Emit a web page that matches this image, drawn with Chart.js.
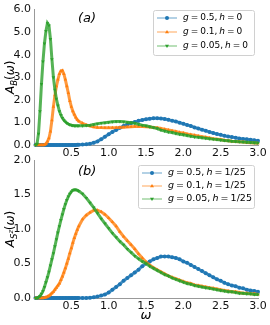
<!DOCTYPE html>
<html>
<head>
<meta charset="utf-8">
<script src="https://cdn.jsdelivr.net/npm/chart.js@4"></script>
<style>
  body { margin: 0; background: #fff; width: 270px; height: 325px; position: relative; overflow: hidden; }
  canvas { position: absolute; left: 0; }
  #panelA { top: 0; }
  #panelB { top: 150px; }
</style>
</head>
<body>
<canvas id="panelA" width="270" height="158"></canvas>
<canvas id="panelB" width="270" height="175"></canvas>
<script>
// frequency grid (fine near the low-ω peaks, coarser afterwards)
const omega = [
  0.02, 0.04, 0.06, 0.08, 0.10, 0.12, 0.14, 0.16, 0.18, 0.20,
  0.22, 0.24, 0.26, 0.28, 0.30, 0.32, 0.34, 0.36, 0.38, 0.40,
  0.42, 0.44, 0.46, 0.48, 0.50, 0.52, 0.54, 0.56, 0.58, 0.60,
  0.65, 0.70, 0.75, 0.80, 0.85, 0.90, 0.95, 1.00,
  1.05, 1.10, 1.15, 1.20, 1.25, 1.30, 1.35, 1.40, 1.45, 1.50,
  1.55, 1.60, 1.65, 1.70, 1.75, 1.80, 1.85, 1.90, 1.95, 2.00,
  2.05, 2.10, 2.15, 2.20, 2.25, 2.30, 2.35, 2.40, 2.45, 2.50,
  2.55, 2.60, 2.65, 2.70, 2.75, 2.80, 2.85, 2.90, 2.95, 3.00
];

// (a) A_B(w), h = 0
const aG05 = [
  0, 0, 0, 0, 0, 0, 0, 0, 0, 0,
  0, 0, 0, 0, 0, 0, 0, 0, 0, 0,
  0, 0, 0, 0, 0, 0, 0.005, 0.005, 0.01, 0.01,
  0.02, 0.03, 0.06, 0.10, 0.16, 0.26, 0.37, 0.48,
  0.58, 0.67, 0.76, 0.84, 0.91, 0.97, 1.02, 1.07, 1.11, 1.14,
  1.16, 1.18, 1.18, 1.17, 1.15, 1.12, 1.08, 1.04, 0.99, 0.94,
  0.89, 0.84, 0.78, 0.73, 0.68, 0.63, 0.58, 0.53, 0.49, 0.45,
  0.41, 0.38, 0.35, 0.32, 0.29, 0.27, 0.25, 0.23, 0.21, 0.19
];
const aG01 = [
  0, 0, 0, 0, 0, 0, 0.01, 0.05, 0.15, 0.30,
  0.60, 1.10, 1.70, 2.20, 2.60, 2.90, 3.15, 3.28, 3.30, 3.15,
  2.90, 2.60, 2.30, 1.95, 1.70, 1.50, 1.35, 1.22, 1.12, 1.05,
  0.96, 0.89, 0.84, 0.80, 0.78, 0.77, 0.76, 0.76,
  0.76, 0.77, 0.78, 0.79, 0.80, 0.81, 0.82, 0.82, 0.82, 0.81,
  0.80, 0.78, 0.76, 0.73, 0.70, 0.67, 0.63, 0.60, 0.56, 0.53,
  0.49, 0.46, 0.43, 0.40, 0.37, 0.34, 0.31, 0.28, 0.26, 0.24,
  0.21, 0.19, 0.17, 0.16, 0.14, 0.13, 0.11, 0.10, 0.09, 0.08
];
const aG005 = [
  0, 0.05, 0.50, 1.50, 2.70, 3.70, 4.50, 5.05, 5.40, 5.30,
  4.70, 3.80, 3.00, 2.45, 2.05, 1.75, 1.50, 1.33, 1.20, 1.10,
  1.03, 0.97, 0.93, 0.90, 0.88, 0.86, 0.85, 0.85, 0.85, 0.85,
  0.85, 0.86, 0.88, 0.91, 0.94, 0.97, 0.99, 1.01,
  1.03, 1.04, 1.04, 1.03, 1.01, 0.99, 0.96, 0.92, 0.88, 0.85,
  0.81, 0.77, 0.73, 0.66, 0.62, 0.58, 0.55, 0.51, 0.48, 0.45,
  0.42, 0.39, 0.36, 0.34, 0.32, 0.30, 0.28, 0.26, 0.24, 0.22,
  0.20, 0.19, 0.17, 0.16, 0.14, 0.13, 0.12, 0.11, 0.10, 0.09
];

// (b) A_Sz(w), h = 1/25
const bG05 = [
  0, 0, 0, 0, 0, 0, 0, 0, 0, 0,
  0, 0, 0, 0, 0, 0, 0, 0, 0, 0,
  0, 0, 0, 0, 0, 0, 0, 0, 0, 0,
  0, 0, 0.005, 0.01, 0.02, 0.035, 0.05, 0.08,
  0.12, 0.16, 0.20, 0.25, 0.29, 0.33, 0.37, 0.41, 0.46, 0.50,
  0.53, 0.56, 0.58, 0.60, 0.60, 0.60, 0.59, 0.58, 0.56, 0.53,
  0.51, 0.48, 0.45, 0.42, 0.39, 0.36, 0.33, 0.30, 0.27, 0.25,
  0.22, 0.20, 0.18, 0.17, 0.15, 0.14, 0.12, 0.11, 0.10, 0.09
];
const bG01 = [
  0, 0, 0, 0, 0, 0, 0.005, 0.01, 0.02, 0.03,
  0.05, 0.07, 0.09, 0.12, 0.15, 0.18, 0.21, 0.26, 0.31, 0.37,
  0.43, 0.50, 0.57, 0.65, 0.72, 0.80, 0.87, 0.93, 0.99, 1.04,
  1.14, 1.20, 1.24, 1.27, 1.27, 1.25, 1.21, 1.16,
  1.10, 1.04, 0.96, 0.89, 0.83, 0.77, 0.71, 0.64, 0.58, 0.52,
  0.48, 0.44, 0.41, 0.38, 0.35, 0.32, 0.30, 0.28, 0.26, 0.24,
  0.22, 0.21, 0.19, 0.18, 0.17, 0.16, 0.15, 0.14, 0.13, 0.12,
  0.11, 0.10, 0.09, 0.09, 0.08, 0.07, 0.07, 0.06, 0.06, 0.05
];
const bG005 = [
  0, 0, 0.01, 0.03, 0.06, 0.10, 0.16, 0.23, 0.30, 0.38,
  0.47, 0.56, 0.65, 0.75, 0.85, 0.95, 1.04, 1.13, 1.21, 1.29,
  1.36, 1.42, 1.47, 1.51, 1.54, 1.56, 1.57, 1.57, 1.56, 1.55,
  1.51, 1.45, 1.38, 1.31, 1.23, 1.15, 1.08, 1.01,
  0.94, 0.88, 0.82, 0.77, 0.71, 0.66, 0.61, 0.57, 0.53, 0.50,
  0.46, 0.43, 0.40, 0.37, 0.34, 0.32, 0.29, 0.27, 0.25, 0.23,
  0.21, 0.20, 0.18, 0.17, 0.16, 0.15, 0.14, 0.13, 0.12, 0.11,
  0.10, 0.09, 0.09, 0.08, 0.07, 0.07, 0.06, 0.06, 0.05, 0.05
];

const xTicks = [0.5, 1.0, 1.5, 2.0, 2.5, 3.0];
const yTicksA = [0, 1, 2, 3, 4, 5, 6];
const yTicksB = [0, 0.5, 1.0, 1.5, 2.0];
const labelsA = ["g = 0.5, h = 0", "g = 0.1, h = 0", "g = 0.05, h = 0"];
const labelsB = ["g = 0.5, h = 1/25", "g = 0.1, h = 1/25", "g = 0.05, h = 1/25"];

const FONT = '"DejaVu Sans", sans-serif';
const colors = ["#1f77b4", "#ff7f0e", "#2ca02c"];
const styles = [
  { pointStyle: "circle", rot: 0 },
  { pointStyle: "triangle", rot: 0 },
  { pointStyle: "triangle", rot: 180 },
];

function fade(hex, a) {
  const n = parseInt(hex.slice(1), 16);
  return `rgba(${n >> 16},${(n >> 8) & 255},${n & 255},${a})`;
}

// mathtext-like: letters italic, digits upright, narrow spaces
function mathText(ctx, str, x, y, size) {
  let cx = x;
  for (const ch of str) {
    if (ch === " ") { cx += size * 0.22; continue; }
    ctx.font = (/[a-zA-Zω]/.test(ch) ? "italic " : "") + size + "px " + FONT;
    ctx.fillText(ch, cx, y);
    cx += ctx.measureText(ch).width;
  }
  return cx;
}

function marker(ctx, i, x, y, r) {
  ctx.fillStyle = colors[i];
  ctx.beginPath();
  if (i === 0) {
    ctx.arc(x, y, r, 0, Math.PI * 2);
  } else {
    const s = i === 1 ? -1 : 1;
    ctx.moveTo(x, y + s * r);
    ctx.lineTo(x - r, y - s * r * 0.6);
    ctx.lineTo(x + r, y - s * r * 0.6);
    ctx.closePath();
  }
  ctx.fill();
}

function decorations(opts) {
  return {
    id: "decor",
    afterDraw(chart) {
      const ctx = chart.ctx;
      ctx.save();
      ctx.fillStyle = "#000";
      ctx.textBaseline = "alphabetic";
      // panel tag
      ctx.textAlign = "left";
      ctx.font = "italic 13px " + FONT;
      ctx.fillText(opts.tag, opts.tagX, opts.tagY);
      // y-axis title, rotated, with subscript
      ctx.translate(opts.ytX, (chart.chartArea.top + chart.chartArea.bottom) / 2);
      ctx.rotate(-Math.PI / 2);
      let w = 0;
      for (const s of opts.ytitle) {
        ctx.font = (s.it ? "italic " : "") + s.size + "px " + FONT;
        w += ctx.measureText(s.t).width;
      }
      let cx = -w / 2;
      for (const s of opts.ytitle) {
        ctx.font = (s.it ? "italic " : "") + s.size + "px " + FONT;
        ctx.fillText(s.t, cx, (s.dy || 0) + 4);
        cx += ctx.measureText(s.t).width;
      }
      ctx.restore();

      // x-axis title
      if (opts.xtitle) {
        ctx.save();
        ctx.fillStyle = "#000";
        ctx.font = "italic 13px " + FONT;
        ctx.textAlign = "center";
        ctx.fillText("ω", (chart.chartArea.left + chart.chartArea.right) / 2, opts.xtitleY);
        ctx.restore();
      }

      // legend box
      const L = opts.legend;
      ctx.save();
      ctx.fillStyle = "rgba(255,255,255,0.8)";
      ctx.strokeStyle = "#d0d0d0";
      ctx.lineWidth = 1;
      ctx.beginPath();
      ctx.roundRect(L.x + 0.5, L.y + 0.5, L.w, L.h, 2);
      ctx.fill();
      ctx.stroke();
      L.labels.forEach((lab, i) => {
        const yy = L.y + L.row0 + i * L.dy;
        ctx.strokeStyle = fade(colors[i], 0.45);
        ctx.lineWidth = 1.5;
        ctx.beginPath();
        ctx.moveTo(L.x + L.lx0, yy);
        ctx.lineTo(L.x + L.lx1, yy);
        ctx.stroke();
        marker(ctx, i, L.x + (L.lx0 + L.lx1) / 2, yy, 2);
        ctx.fillStyle = "#000";
        ctx.textAlign = "left";
        ctx.textBaseline = "middle";
        mathText(ctx, lab, L.x + L.tx, yy, L.size);
      });
      ctx.restore();
    },
  };
}

function makeChart(id, series, labels, yMax, yTicks, xHeight, padTop, deco) {
  const datasets = series.map((vals, i) => ({
    label: labels[i],
    data: omega.map((w, k) => ({ x: w, y: vals[k] })),
    borderColor: fade(colors[i], 0.8),
    borderWidth: 3,
    pointStyle: styles[i].pointStyle,
    rotation: styles[i].rot,
    pointRadius: 2,
    pointBackgroundColor: colors[i],
    pointBorderColor: colors[i],
    pointBorderWidth: 0,
    tension: 0,
    clip: false,
    order: 2 - i,
  }));
  const tickFont = { family: FONT, size: 11 };
  return new Chart(document.getElementById(id), {
    type: "line",
    data: { datasets },
    options: {
      responsive: false,
      animation: false,
      layout: { padding: { left: 0, right: 12, top: padTop, bottom: 0 } },
      plugins: { legend: { display: false }, tooltip: { enabled: false } },
      scales: {
        x: {
          type: "linear",
          min: 0,
          max: 3,
          afterBuildTicks: (s) => { s.ticks = xTicks.map((v) => ({ value: v })); },
          afterFit: (s) => { s.height = xHeight; },
          ticks: { font: tickFont, color: "#111", padding: 2, maxRotation: 0, autoSkip: false,
                   callback: (v) => Number(v).toFixed(1) },
          grid: { display: false, drawTicks: false },
          border: { display: true, color: "#999", width: 1 },
        },
        y: {
          min: 0,
          max: yMax,
          afterBuildTicks: (s) => { s.ticks = yTicks.map((v) => ({ value: v })); },
          afterFit: (s) => { s.width = 34; },
          ticks: { font: tickFont, color: "#111", padding: 3, autoSkip: false,
                   callback: (v) => Number(v).toFixed(1) },
          grid: { display: false, drawTicks: false },
          border: { display: true, color: "#999", width: 1 },
        },
      },
    },
    plugins: [decorations(deco)],
  });
}

makeChart("panelA", [aG05, aG01, aG005], labelsA, 6, yTicksA, 13, 5, {
  tag: "(a)", tagX: 78, tagY: 22,
  ytX: 10,
  ytitle: [
    { t: "A", it: true, size: 12 },
    { t: "B", it: true, size: 8.5, dy: 3 },
    { t: "(", size: 12 },
    { t: "ω", it: true, size: 12 },
    { t: ")", size: 12 },
  ],
  legend: { x: 153, y: 10, w: 101, h: 45, row0: 8, dy: 14, lx0: 4, lx1: 24, tx: 30, size: 9, labels: labelsA },
});

makeChart("panelB", [bG05, bG01, bG005], labelsB, 2, yTicksB, 27, 10, {
  tag: "(b)", tagX: 78, tagY: 25,
  ytX: 10,
  xtitle: true, xtitleY: 169,
  ytitle: [
    { t: "A", it: true, size: 12 },
    { t: "S", it: true, size: 8.5, dy: 3 },
    { t: "z", it: true, size: 6.5, dy: -1 },
    { t: "(", size: 12 },
    { t: "ω", it: true, size: 12 },
    { t: ")", size: 12 },
  ],
  legend: { x: 138, y: 15, w: 116, h: 43, row0: 8, dy: 13, lx0: 4, lx1: 24, tx: 30, size: 9.5, labels: labelsB },
});
</script>
</body>
</html>
